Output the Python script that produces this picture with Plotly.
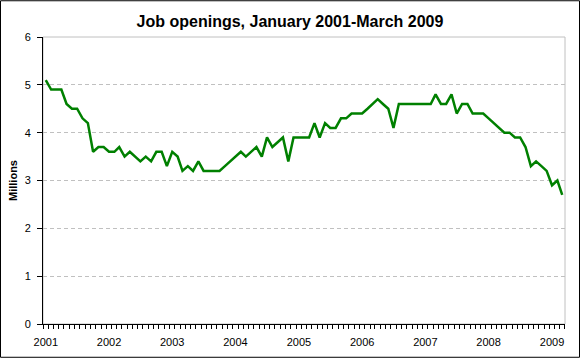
import pandas as pd
import plotly.graph_objects as go

# Job openings, millions, monthly Jan 2001 - Mar 2009
y2001 = [5.1, 4.9, 4.9, 4.9, 4.6, 4.5, 4.5, 4.3, 4.2, 3.6, 3.7, 3.7]
y2002 = [3.6, 3.6, 3.7, 3.5, 3.6, 3.5, 3.4, 3.5, 3.4, 3.6, 3.6, 3.3]
y2003 = [3.6, 3.5, 3.2, 3.3, 3.2, 3.4, 3.2, 3.2, 3.2, 3.2, 3.3, 3.4]
y2004 = [3.5, 3.6, 3.5, 3.6, 3.7, 3.5, 3.9, 3.7, 3.8, 3.9, 3.4, 3.9]
y2005 = [3.9, 3.9, 3.9, 4.2, 3.9, 4.2, 4.1, 4.1, 4.3, 4.3, 4.4, 4.4]
y2006 = [4.4, 4.5, 4.6, 4.7, 4.6, 4.5, 4.1, 4.6, 4.6, 4.6, 4.6, 4.6]
y2007 = [4.6, 4.6, 4.8, 4.6, 4.6, 4.8, 4.4, 4.6, 4.6, 4.4, 4.4, 4.4]
y2008 = [4.3, 4.2, 4.1, 4.0, 4.0, 3.9, 3.9, 3.7, 3.3, 3.4, 3.3, 3.2]
y2009 = [2.9, 3.0, 2.7]

openings = y2001 + y2002 + y2003 + y2004 + y2005 + y2006 + y2007 + y2008 + y2009
months = pd.date_range("2001-01-01", periods=len(openings), freq="MS")

year_labels = ["2001", "2002", "2003", "2004", "2005", "2006", "2007", "2008", "2009"]
year_ticks = [f"{y}-01-01" for y in year_labels]
y_ticks = [0, 1, 2, 3, 4, 5, 6]

FONT = "Liberation Sans, Arial, sans-serif"
W, H = 580, 360
ML, MR, MT, MB = 43, 15, 37, 34
PW, PH = W - ML - MR, H - MT - MB

fig = go.Figure()
fig.add_trace(go.Scatter(
    x=months, y=openings, mode="lines",
    line=dict(color="#008000", width=2.5),
    hoverinfo="x+y",
))

fig.update_layout(
    width=W, height=H, autosize=False,
    margin=dict(l=ML, r=MR, t=MT, b=MB, pad=0),
    paper_bgcolor="white", plot_bgcolor="white",
    showlegend=False,
    font=dict(family=FONT, size=11, color="black"),
    title=dict(
        text="Job openings, January 2001-March 2009",
        font=dict(family=FONT, size=16, color="black", weight="bold"),
        x=0.5, xref="container", xanchor="center",
        y=1 - 21 / H, yref="container", yanchor="middle",
    ),
    xaxis=dict(
        type="date",
        range=["2000-12-16", "2009-03-17"],
        tickmode="array", tickvals=year_ticks, ticktext=year_labels,
        ticks="outside", ticklen=4, tickcolor="rgba(0,0,0,0)",
        ticklabelstandoff=4,
        showgrid=False, zeroline=False,
        showline=True, linecolor="black", linewidth=1,
        tickfont=dict(family=FONT, size=11, color="black"),
        minor=dict(tickmode="linear", tick0="2000-12-16", dtick="M1",
                   ticks="outside", ticklen=4, tickcolor="black",
                   tickwidth=1, showgrid=False),
        fixedrange=True,
    ),
    yaxis=dict(
        range=[0, 6], tickmode="array", tickvals=y_ticks,
        ticks="outside", ticklen=5, tickcolor="black", tickwidth=1,
        ticklabelstandoff=4,
        showgrid=True, gridcolor="#c0c0c0", gridwidth=1, griddash="4px,3px",
        zeroline=False,
        showline=True, linecolor="black", linewidth=1,
        tickfont=dict(family=FONT, size=11, color="black"),
        title=dict(text="Millions", standoff=4,
                   font=dict(family=FONT, size=11, color="black", weight="bold")),
        fixedrange=True,
    ),
    shapes=[
        # plot area border (grey)
        dict(type="rect", xref="paper", yref="paper", x0=0, y0=0, x1=1, y1=1,
             line=dict(color="#c0c0c0", width=1), layer="below"),
        # outer chart frame (black)
        dict(type="rect", xref="paper", yref="paper",
             x0=(0.5 - ML) / PW, x1=(W - 0.5 - ML) / PW,
             y0=-(MB - 0.5) / PH, y1=1 + (MT - 0.5) / PH,
             line=dict(color="black", width=1), layer="above"),
    ],
)

fig.write_html(
    "out.html",
    config={"displayModeBar": False},
    post_script="document.body.style.margin='0';document.body.style.overflow='hidden';",
)
